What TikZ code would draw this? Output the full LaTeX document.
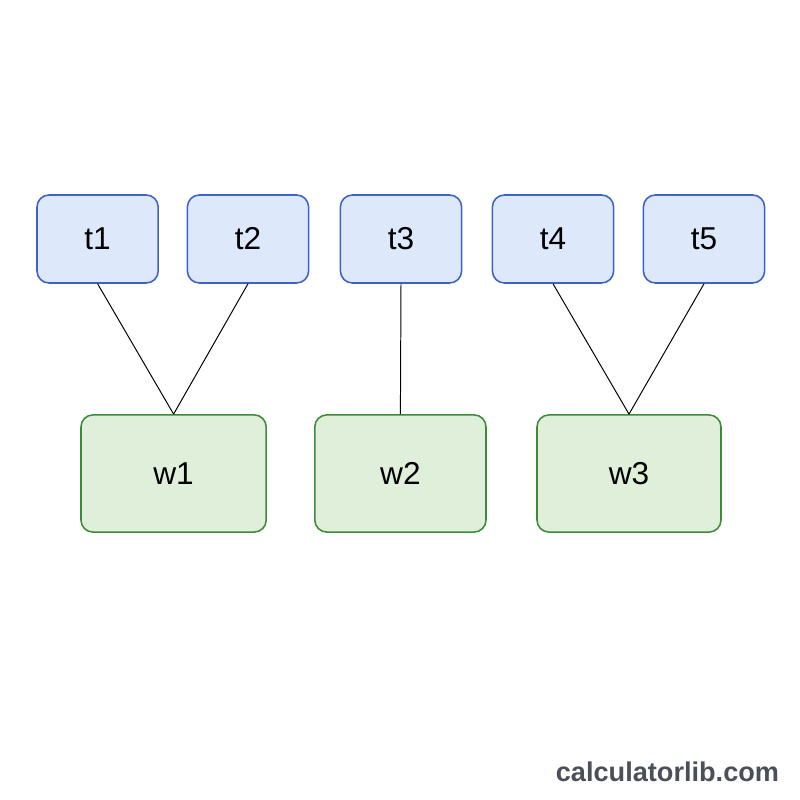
\documentclass[tikz,border=0pt]{standalone}
\usepackage{fontspec}
\setmainfont{Liberation Sans}
\usepackage{xcolor}
\usetikzlibrary{positioning}

\definecolor{taskfill}{HTML}{DDE8FA}
\definecolor{taskline}{HTML}{3A63C4}
\definecolor{workfill}{HTML}{E0EFDA}
\definecolor{workline}{HTML}{3F8A3A}
\definecolor{markgray}{HTML}{4A4F5A}

\begin{document}
\begin{tikzpicture}[font=\fontsize{22.5}{26}\selectfont,
  taskbox/.style={draw=taskline, fill=taskfill, line width=1.1pt,
    rounded corners=0.3cm, minimum width=3.03cm, minimum height=2.2cm},
  workbox/.style={draw=workline, fill=workfill, line width=1.1pt,
    rounded corners=0.3cm, minimum height=2.93cm},
  link/.style={black, line width=0.7pt}]

\useasboundingbox[fill=white] (0,0) rectangle (20,20);

%-- task row
\foreach \n/\x in {t1/2.44, t2/6.2, t3/10.025, t4/13.825, t5/17.6}
  \node[taskbox] (\n) at (\x,14.025) {\n};

%-- worker row
\node[workbox, minimum width=4.63cm] (w1) at (4.34, 8.1625)  {w1};
\node[workbox, minimum width=4.28cm] (w2) at (10.01,8.1625)  {w2};
\node[workbox, minimum width=4.6cm]  (w3) at (15.725,8.1625) {w3};

\foreach \s/\e in {t1/w1,t2/w1,t3/w2,t4/w3,t5/w3}
  \draw[link] (\s.south)--(\e.north);

\node[markgray, font=\fontsize{19.3}{23}\selectfont\bfseries, anchor=east]
  (mark) at (19.6,0.7) {calculatorlib.com};

\end{tikzpicture}
\end{document}
